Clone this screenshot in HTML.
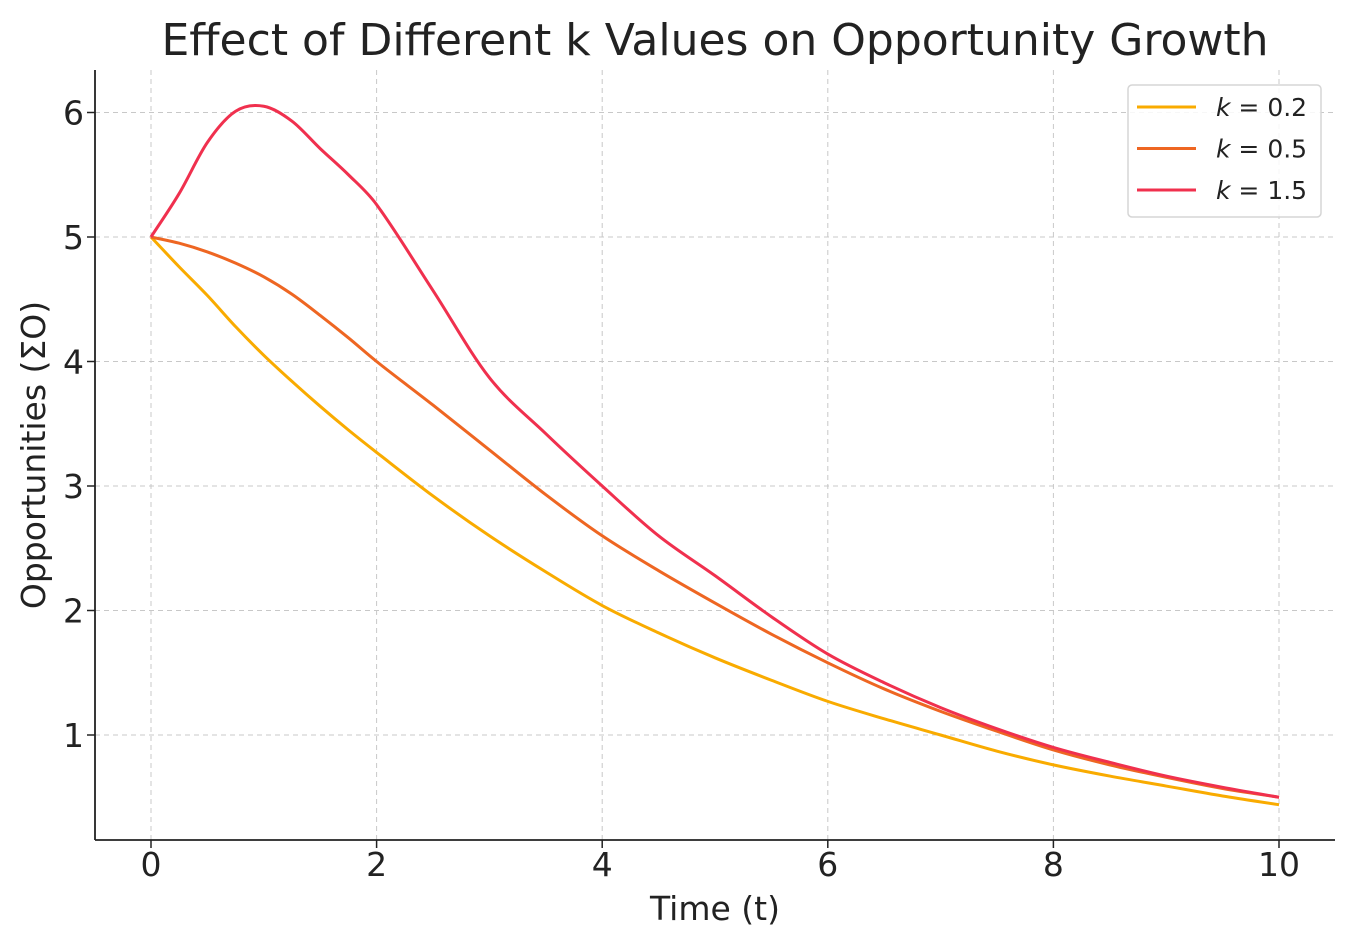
<!DOCTYPE html>
<html><head><meta charset="utf-8"><style>
body{margin:0;background:#fff;}
svg text{font-family:"DejaVu Sans","Liberation Sans",sans-serif;fill:#222;}
</style></head><body>
<svg id="chart" width="1355" height="947" xmlns="http://www.w3.org/2000/svg">
<text x="715" y="55" text-anchor="middle" font-size="44">Effect of Different k Values on Opportunity Growth</text>
<g id="grid"></g>
<g id="lines"></g>
<g id="axes"></g>
<text x="715" y="920" text-anchor="middle" font-size="33">Time (t)</text>
<text transform="translate(45,455) rotate(-90)" text-anchor="middle" font-size="33">Opportunities (ΣO)</text>
<g id="legend"></g>
</svg>
<script>
const tVals=[0,0.25,0.5,0.75,1,1.25,1.5,1.75,2,2.5,3,3.5,4,4.5,5,5.5,6,6.5,7,7.5,8,8.5,9,9.5,10];
const k02=[5,4.76,4.53,4.28,4.05,3.84,3.64,3.45,3.27,2.92,2.6,2.31,2.04,1.82,1.62,1.44,1.27,1.13,1.0,0.87,0.76,0.67,0.59,0.51,0.44];
const k05=[5,4.95,4.88,4.79,4.68,4.54,4.37,4.19,4.0,3.65,3.29,2.93,2.6,2.32,2.06,1.81,1.58,1.37,1.19,1.03,0.88,0.76,0.66,0.57,0.5];
const k15=[5,5.35,5.76,6.01,6.05,5.93,5.71,5.5,5.26,4.57,3.87,3.42,3.0,2.6,2.28,1.95,1.65,1.42,1.22,1.05,0.9,0.78,0.67,0.58,0.5];
const seriesNames=["k = 0.2","k = 0.5","k = 1.5"];
const seriesKeys=["0.2","0.5","1.5"];
const seriesColors=["#f9ab00","#ee6622","#f0304e"];
const xTicks=[0,2,4,6,8,10];
const yTicks=[1,2,3,4,5,6];
const X=v=>151+v*112.8, Y=v=>859.5-v*124.5;
const NS="http://www.w3.org/2000/svg";
function mk(tag,attrs,parent){const e=document.createElementNS(NS,tag);for(const k in attrs)e.setAttribute(k,attrs[k]);parent.appendChild(e);return e;}
const grid=document.getElementById('grid'),axes=document.getElementById('axes'),lines=document.getElementById('lines'),leg=document.getElementById('legend');
xTicks.forEach(v=>{
 const g=mk('line',{x1:X(v),x2:X(v),y1:70,y2:840,stroke:'#c8c8c8','stroke-dasharray':'5,4','stroke-width':1},grid);
 
 const t=mk('line',{x1:X(v),x2:X(v),y1:840,y2:848,stroke:'#222','stroke-width':1.5},axes);
 
 const l=mk('text',{x:X(v),y:876,'text-anchor':'middle','font-size':33},axes);l.textContent=v;
 
});
yTicks.forEach(v=>{
 const g=mk('line',{x1:95,x2:1335,y1:Y(v),y2:Y(v),stroke:'#c8c8c8','stroke-dasharray':'5,4','stroke-width':1},grid);
 
 const t=mk('line',{x1:87,x2:95,y1:Y(v),y2:Y(v),stroke:'#222','stroke-width':1.5},axes);
 
 const l=mk('text',{x:84,y:Y(v)+12,'text-anchor':'end','font-size':33},axes);l.textContent=v;
 
});
const ax1=mk('line',{x1:95,x2:95,y1:70,y2:840,stroke:'#222','stroke-width':1.8},axes);

const ax2=mk('line',{x1:95,x2:1335,y1:840,y2:840,stroke:'#222','stroke-width':1.8},axes);

function pathFor(ys){
 const n=tVals.length, m=[];
 for(let i=0;i<n;i++){
  const a=Math.max(i-1,0), b=Math.min(i+1,n-1);
  m.push((ys[b]-ys[a])/(tVals[b]-tVals[a]));
 }
 let d=`M${X(tVals[0])},${Y(ys[0])}`;
 for(let i=0;i<n-1;i++){
  const h=tVals[i+1]-tVals[i];
  const c1x=X(tVals[i]+h/3), c1y=Y(ys[i]+m[i]*h/3);
  const c2x=X(tVals[i+1]-h/3), c2y=Y(ys[i+1]-m[i+1]*h/3);
  d+=` C${c1x},${c1y} ${c2x},${c2y} ${X(tVals[i+1])},${Y(ys[i+1])}`;
 }
 return d;
}
[k02,k05,k15].forEach((ys,i)=>{
 const p=mk('path',{d:pathFor(ys),fill:'none',stroke:seriesColors[i],'stroke-width':3},lines);
 
});
const box=mk('rect',{x:1128,y:85,width:193,height:132,rx:4,fill:'#fff','fill-opacity':0.85,stroke:'#d5d5d5','stroke-width':1.5},leg);

seriesNames.forEach((n,i)=>{
 const y=107+i*41.5;
 const g=mk('g',{},leg);
 
 mk('line',{x1:1137,x2:1196,y1:y,y2:y,stroke:seriesColors[i],'stroke-width':3},g);
 const t=mk('text',{x:1216,y:y+9,'font-size':25},g);
 const a=mk('tspan',{'font-style':'italic'},t);a.textContent='k';
 const b=mk('tspan',{},t);b.textContent=' = '+seriesKeys[i];
});
</script>
</body></html>
